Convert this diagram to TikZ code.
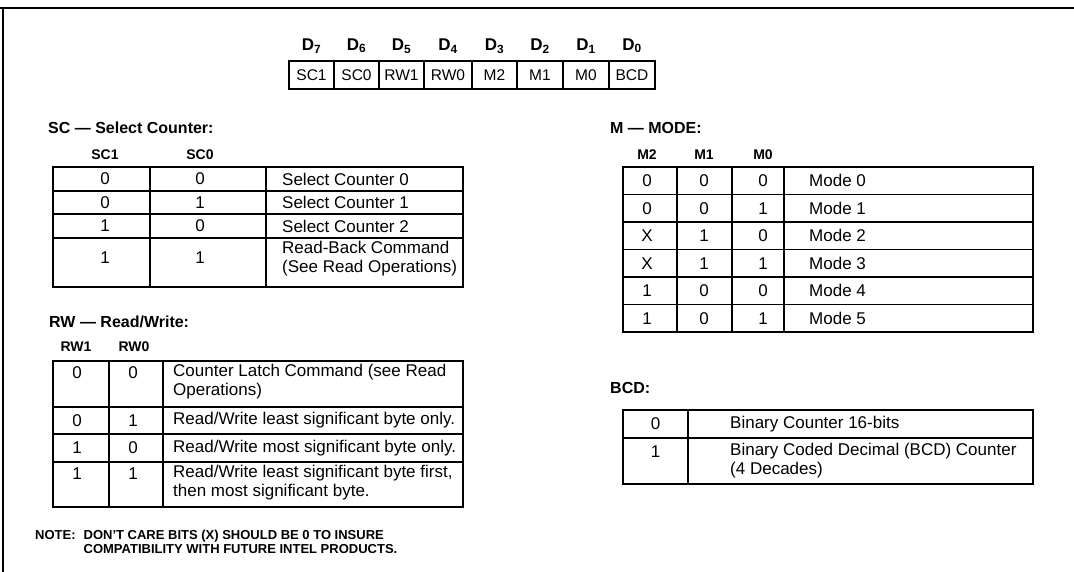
\documentclass[tikz,border=0pt]{standalone}
\usepackage{fontspec}
\setmainfont{Liberation Sans}
\usepackage{tikz}
\usetikzlibrary{positioning}

\begin{document}
\begin{tikzpicture}[x=1pt,y=-1pt,
	cell/.style={inner sep=0pt,font=\fontsize{17}{19}\selectfont},
	txt/.style={cell,anchor=west,align=left},
	hdr/.style={inner sep=0pt,font=\bfseries\fontsize{14}{16}\selectfont},
	ttl/.style={inner sep=0pt,anchor=west,font=\bfseries\fontsize{16}{18}\selectfont},
	grid/.style={line width=1.5pt},
	regcell/.style={inner sep=0pt,font=\fontsize{15.5}{17}\selectfont},
	bitlabel/.style={inner sep=0pt,font=\bfseries\fontsize{17}{19}\selectfont}]
				\useasboundingbox (0,0) rectangle (1074,572);
				% frame
				\draw[line width=2.5pt] (0,8) -- (1074,8);
				\draw[line width=2.5pt] (3,8) -- (3,572);
				% control word register
				\draw[grid,line width=1.8pt] (289,61) rectangle (655,89);
				\draw[grid] (334,61) -- (334,89);
				\draw[grid] (379,61) -- (379,89);
				\draw[grid] (424,61) -- (424,89);
				\draw[grid] (472,61) -- (472,89);
				\draw[grid] (517,61) -- (517,89);
				\draw[grid] (563,61) -- (563,89);
				\draw[grid] (609,61) -- (609,89);
				\node[regcell] (REG_SC1) at (311.5,75) {SC1};
				\node[regcell] (REG_SC0) at (356.5,75) {SC0};
				\node[regcell] (REG_RW1) at (401.5,75) {RW1};
				\node[regcell] (REG_RW0) at (448,75) {RW0};
				\node[regcell] (REG_M2) at (494.5,75) {M2};
				\node[regcell] (REG_M1) at (540,75) {M1};
				\node[regcell] (REG_M0) at (586,75) {M0};
				\node[regcell] (REG_BCD) at (632,75) {BCD};
				\node[bitlabel,above=16pt of REG_SC1] (D7) {D\textsubscript{7}};
				\node[bitlabel,above=16pt of REG_SC0] (D6) {D\textsubscript{6}};
				\node[bitlabel,above=16pt of REG_RW1] (D5) {D\textsubscript{5}};
				\node[bitlabel,above=16pt of REG_RW0] (D4) {D\textsubscript{4}};
				\node[bitlabel,above=16pt of REG_M2] (D3) {D\textsubscript{3}};
				\node[bitlabel,above=16pt of REG_M1] (D2) {D\textsubscript{2}};
				\node[bitlabel,above=16pt of REG_M0] (D1) {D\textsubscript{1}};
				\node[bitlabel,above=16pt of REG_BCD] (D0) {D\textsubscript{0}};
				% SC -- select counter
				\node[ttl] (SC_TITLE) at (48,128) {SC — Select Counter:};
				\node[hdr] (SC_H1) at (105,155) {SC1};
				\node[hdr] (SC_H0) at (200,155) {SC0};
				\draw[grid] (53,167) rectangle (463,287);
				\draw[grid] (150,167) -- (150,287);
				\draw[grid] (266,167) -- (266,287);
				\draw[grid] (53,191) -- (463,191);
				\draw[grid] (53,214) -- (463,214);
				\draw[grid] (53,238) -- (463,238);
				\node[cell] (SC_A1) at (105,179) {0};
				\node[cell] (SC_A0) at (200,179) {0};
				\node[txt] (SC_AT) at (282,179) {Select Counter 0};
				\node[cell] (SC_B1) at (105,202.5) {0};
				\node[cell] (SC_B0) at (200,202.5) {1};
				\node[txt] (SC_BT) at (282,202.5) {Select Counter 1};
				\node[cell] (SC_C1) at (105,226) {1};
				\node[cell] (SC_C0) at (200,226) {0};
				\node[txt] (SC_CT) at (282,226) {Select Counter 2};
				\node[cell] (SC_D1) at (105,258) {1};
				\node[cell] (SC_D0) at (200,258) {1};
				\node[txt] (SC_DT) at (282,259) {Read-Back Command\\(See Read Operations)};
				% RW -- read/write
				\node[ttl] (RW_TITLE) at (49,322) {RW — Read/Write:};
				\node[hdr] (RW_H1) at (76,347) {RW1};
				\node[hdr] (RW_H0) at (134,347) {RW0};
				\draw[grid] (53,361) rectangle (463,507);
				\draw[grid] (109,361) -- (109,507);
				\draw[grid] (163,361) -- (163,507);
				\draw[grid] (53,407) -- (463,407);
				\draw[grid] (53,434) -- (463,434);
				\draw[grid] (53,462) -- (463,462);
				\node[cell] (RW_A1) at (77,373) {0};
				\node[cell] (RW_A0) at (133,373) {0};
				\node[txt] (RW_AT) at (173,382) {Counter Latch Command (see Read\\Operations)};
				\node[cell] (RW_B1) at (77,420.5) {0};
				\node[cell] (RW_B0) at (133,420.5) {1};
				\node[txt] (RW_BT) at (173,420.5) {Read/Write least significant byte only.};
				\node[cell] (RW_C1) at (77,448) {1};
				\node[cell] (RW_C0) at (133,448) {0};
				\node[txt] (RW_CT) at (173,448) {Read/Write most significant byte only.};
				\node[cell] (RW_D1) at (77,474) {1};
				\node[cell] (RW_D0) at (133,474) {1};
				\node[txt] (RW_DT) at (173,483) {Read/Write least significant byte first,\\then most significant byte.};
				% note
				\node[inner sep=0pt,anchor=north west,font=\bfseries\fontsize{13}{14}\selectfont] (NOTE) at (35,529) {%
					\begin{tabular}{@{}l@{\hspace{8pt}}l@{}}NOTE: & DON'T CARE BITS (X) SHOULD BE 0 TO INSURE\\ & COMPATIBILITY WITH FUTURE INTEL PRODUCTS.\end{tabular}};
				% M -- mode
				\node[ttl] (M_TITLE) at (610,128) {M — MODE:};
				\node[hdr] (M_H2) at (647,155) {M2};
				\node[hdr] (M_H1) at (704,155) {M1};
				\node[hdr] (M_H0) at (763,155) {M0};
				\draw[grid] (623,167) rectangle (1033,332);
				\draw[grid] (677,167) -- (677,332);
				\draw[grid] (732,167) -- (732,332);
				\draw[grid] (784,167) -- (784,332);
				\draw[grid] (623,194.5) -- (1033,194.5);
				\draw[grid] (623,222) -- (1033,222);
				\draw[grid] (623,249.5) -- (1033,249.5);
				\draw[grid] (623,277) -- (1033,277);
				\draw[grid] (623,304.5) -- (1033,304.5);
				\node[cell] (M_A2) at (647,180.75) {0};
				\node[cell] (M_A1) at (704,180.75) {0};
				\node[cell] (M_A0) at (763,180.75) {0};
				\node[txt] (M_AT) at (809,180.75) {Mode 0};
				\node[cell] (M_B2) at (647,208.25) {0};
				\node[cell] (M_B1) at (704,208.25) {0};
				\node[cell] (M_B0) at (763,208.25) {1};
				\node[txt] (M_BT) at (809,208.25) {Mode 1};
				\node[cell] (M_C2) at (647,235.75) {X};
				\node[cell] (M_C1) at (704,235.75) {1};
				\node[cell] (M_C0) at (763,235.75) {0};
				\node[txt] (M_CT) at (809,235.75) {Mode 2};
				\node[cell] (M_D2) at (647,263.25) {X};
				\node[cell] (M_D1) at (704,263.25) {1};
				\node[cell] (M_D0) at (763,263.25) {1};
				\node[txt] (M_DT) at (809,263.25) {Mode 3};
				\node[cell] (M_E2) at (647,290.75) {1};
				\node[cell] (M_E1) at (704,290.75) {0};
				\node[cell] (M_E0) at (763,290.75) {0};
				\node[txt] (M_ET) at (809,290.75) {Mode 4};
				\node[cell] (M_F2) at (647,318.25) {1};
				\node[cell] (M_F1) at (704,318.25) {0};
				\node[cell] (M_F0) at (763,318.25) {1};
				\node[txt] (M_FT) at (809,318.25) {Mode 5};
				% BCD
				\node[ttl] (BCD_TITLE) at (610,388) {BCD:};
				\draw[grid] (623,410) rectangle (1033,484);
				\draw[grid] (688,410) -- (688,484);
				\draw[grid] (623,438) -- (1033,438);
				\node[cell] (BCD_A) at (655.5,424) {0};
				\node[txt] (BCD_AT) at (730,424) {Binary Counter 16-bits};
				\node[cell] (BCD_B) at (655.5,452) {1};
				\node[txt] (BCD_BT) at (730,461) {Binary Coded Decimal (BCD) Counter\\(4 Decades)};
			\end{tikzpicture}
\end{document}
